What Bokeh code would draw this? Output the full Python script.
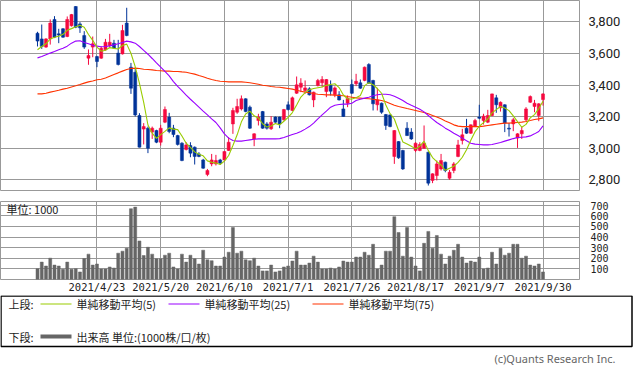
from bokeh.plotting import figure
from bokeh.layouts import column
from bokeh.models import (Range1d, FixedTicker, NumeralTickFormatter, ColumnDataSource,
                          GlobalInlineStyleSheet)
from bokeh.core.properties import value
from bokeh.embed import file_html
from bokeh.resources import INLINE

# ---------------- data ----------------
opens = [3728, 3692, 3640, 3692, 3815, 3724, 3756, 3707, 3775, 3897,
         3787, 3713, 3570, 3640, 3580, 3570, 3623, 3650, 3665, 3602,
         3597, 3792, 3513, 3481, 3207, 3121, 3127, 3102, 3112, 3038,
         3165, 3197, 3127, 3080, 3032, 2992, 3017, 3007, 2964, 2926,
         2834, 2901, 2901, 2926, 2926, 2986, 3154, 3228, 3249, 3313,
         3260, 3059, 3175, 3232, 3154, 3123, 3197, 3197, 3180, 3275,
         3239, 3348, 3386, 3365, 3376, 3306, 3397, 3414, 3359, 3397,
         3338, 3338, 3249, 3285, 3403, 3408, 3414, 3429, 3530, 3429,
         3275, 3285, 3213, 3211, 2948, 3042, 2986, 3127, 3102, 2986,
         2986, 3000, 2975, 2796, 2827, 2869, 2912, 2810, 2859, 2948,
         3049, 3127, 3095, 3137, 3197, 3175, 3165, 3207, 3319, 3256,
         3275, 3127, 3154, 3064, 3091, 3180, 3291, 3264, 3207, 3308]
highs = [3737, 3783, 3697, 3815, 3836, 3756, 3760, 3834, 3850, 3900,
         3798, 3741, 3625, 3707, 3585, 3644, 3692, 3724, 3686, 3686,
         3781, 3889, 3540, 3502, 3222, 3159, 3137, 3137, 3117, 3148,
         3264, 3224, 3148, 3085, 3038, 3038, 3038, 3011, 2975, 2933,
         2869, 2964, 2958, 2933, 2982, 3070, 3256, 3313, 3334, 3316,
         3270, 3095, 3218, 3236, 3165, 3203, 3201, 3200, 3249, 3296,
         3327, 3454, 3443, 3429, 3386, 3358, 3439, 3456, 3438, 3429,
         3391, 3361, 3306, 3334, 3435, 3471, 3435, 3517, 3538, 3433,
         3382, 3289, 3217, 3214, 3115, 3045, 2990, 3165, 3127, 3038,
         3038, 3144, 2979, 2841, 2922, 2964, 2915, 2863, 2912, 3053,
         3123, 3186, 3150, 3186, 3275, 3218, 3243, 3346, 3338, 3296,
         3278, 3159, 3192, 3095, 3137, 3260, 3334, 3306, 3285, 3348]
lows = [3644, 3629, 3635, 3656, 3697, 3665, 3699, 3703, 3770, 3760,
        3730, 3629, 3528, 3576, 3513, 3566, 3618, 3640, 3629, 3524,
        3593, 3709, 3344, 3201, 3005, 3024, 2969, 3059, 3032, 3017,
        3159, 3095, 3070, 3017, 2918, 2986, 2943, 2897, 2943, 2870,
        2823, 2886, 2891, 2895, 2918, 2983, 3091, 3218, 3239, 3228,
        3122, 3013, 3144, 3123, 3118, 3116, 3161, 3127, 3175, 3239,
        3235, 3344, 3355, 3344, 3334, 3260, 3391, 3386, 3323, 3334,
        3323, 3302, 3199, 3260, 3344, 3393, 3376, 3424, 3408, 3239,
        3239, 3218, 3116, 3133, 2901, 2933, 2863, 3078, 3053, 2975,
        2981, 2996, 2764, 2779, 2796, 2859, 2848, 2800, 2842, 2943,
        3024, 3091, 3091, 3135, 3184, 3150, 3159, 3203, 3224, 3232,
        3102, 3074, 3108, 3002, 3059, 3171, 3287, 3228, 3171, 3270]
closes = [3678, 3644, 3692, 3792, 3703, 3716, 3703, 3815, 3846, 3766,
          3762, 3640, 3587, 3661, 3549, 3633, 3671, 3671, 3635, 3530,
          3745, 3713, 3380, 3211, 3007, 3137, 3000, 3127, 3038, 3127,
          3245, 3106, 3087, 3024, 2922, 3021, 2969, 2948, 2948, 2874,
          2859, 2926, 2922, 2905, 2979, 3038, 3239, 3264, 3313, 3232,
          3127, 3091, 3197, 3127, 3127, 3165, 3165, 3154, 3245, 3245,
          3319, 3401, 3412, 3382, 3338, 3355, 3429, 3435, 3435, 3361,
          3382, 3306, 3201, 3317, 3348, 3424, 3380, 3513, 3412, 3281,
          3306, 3228, 3144, 3137, 3112, 2939, 2869, 3080, 3059, 3032,
          3024, 3032, 2779, 2838, 2901, 2922, 2859, 2848, 2901, 3021,
          3085, 3095, 3148, 3175, 3190, 3203, 3207, 3344, 3275, 3291,
          3159, 3121, 3180, 3091, 3112, 3249, 3327, 3285, 3281, 3344]
volumes = [102, 164, 127, 201, 136, 127, 96, 164, 96, 102,
           71, 198, 239, 136, 146, 99, 99, 118, 108, 248,
           267, 295, 667, 682, 363, 226, 304, 239, 195, 195,
           229, 248, 118, 99, 239, 164, 229, 195, 146, 276,
           186, 177, 127, 127, 211, 257, 490, 248, 267, 186,
           177, 201, 127, 81, 81, 136, 71, 81, 118, 127,
           174, 267, 136, 136, 155, 220, 164, 99, 99, 108,
           99, 118, 174, 164, 164, 211, 211, 257, 229, 332,
           99, 136, 267, 267, 592, 443, 220, 490, 211, 127,
           81, 341, 453, 295, 415, 239, 146, 220, 276, 332,
           211, 155, 174, 164, 211, 99, 108, 257, 146, 295,
           229, 248, 332, 332, 201, 220, 136, 127, 146, 71]
ma5 = [3623, 3644, 3661, 3692, 3702, 3709, 3721, 3746, 3757, 3769,
       3778, 3766, 3720, 3683, 3640, 3614, 3620, 3637, 3632, 3628,
       3650, 3659, 3601, 3516, 3411, 3290, 3147, 3096, 3062, 3086,
       3107, 3129, 3121, 3118, 3077, 3032, 3005, 2977, 2962, 2952,
       2920, 2911, 2906, 2897, 2918, 2954, 3017, 3085, 3167, 3217,
       3235, 3205, 3192, 3155, 3134, 3141, 3156, 3148, 3171, 3195,
       3226, 3273, 3324, 3352, 3370, 3378, 3383, 3388, 3398, 3403,
       3408, 3384, 3337, 3313, 3311, 3319, 3334, 3396, 3415, 3402,
       3378, 3348, 3274, 3219, 3185, 3112, 3040, 3027, 3012, 2996,
       3013, 3045, 2985, 2941, 2915, 2894, 2860, 2874, 2886, 2910,
       2943, 2990, 3050, 3105, 3139, 3162, 3185, 3224, 3244, 3264,
       3255, 3238, 3205, 3168, 3133, 3151, 3192, 3213, 3251, 3297]
ma25 = [3572, 3580, 3591, 3602, 3612, 3623, 3633, 3646, 3665, 3678,
        3680, 3669, 3661, 3652, 3646, 3642, 3644, 3648, 3654, 3661,
        3669, 3678, 3673, 3665, 3644, 3619, 3595, 3568, 3540, 3513,
        3486, 3458, 3422, 3391, 3365, 3336, 3310, 3285, 3260, 3235,
        3211, 3186, 3163, 3129, 3091, 3064, 3049, 3045, 3045, 3049,
        3053, 3057, 3059, 3059, 3059, 3059, 3059, 3061, 3068, 3078,
        3087, 3095, 3106, 3121, 3137, 3159, 3186, 3211, 3235, 3260,
        3272, 3277, 3279, 3279, 3285, 3302, 3310, 3317, 3323, 3332,
        3338, 3342, 3342, 3338, 3329, 3317, 3302, 3285, 3272, 3260,
        3247, 3230, 3207, 3184, 3163, 3146, 3127, 3112, 3095, 3080,
        3064, 3047, 3032, 3026, 3024, 3021, 3021, 3024, 3030, 3036,
        3045, 3053, 3061, 3068, 3070, 3072, 3078, 3091, 3106, 3142]
ma75 = [3344, 3344, 3348, 3355, 3361, 3367, 3374, 3380, 3388, 3395,
        3403, 3412, 3420, 3426, 3433, 3437, 3445, 3456, 3467, 3477,
        3488, 3498, 3505, 3507, 3505, 3500, 3498, 3496, 3492, 3490,
        3488, 3488, 3486, 3486, 3483, 3481, 3475, 3469, 3460, 3452,
        3443, 3435, 3429, 3424, 3422, 3420, 3420, 3420, 3420, 3418,
        3414, 3410, 3405, 3399, 3395, 3391, 3388, 3386, 3382, 3378,
        3374, 3367, 3361, 3355, 3351, 3346, 3342, 3340, 3338, 3338,
        3336, 3334, 3332, 3327, 3323, 3319, 3317, 3315, 3313, 3310,
        3306, 3302, 3294, 3283, 3272, 3264, 3258, 3251, 3245, 3239,
        3232, 3226, 3218, 3207, 3197, 3186, 3173, 3161, 3148, 3140,
        3137, 3137, 3137, 3137, 3137, 3140, 3144, 3148, 3152, 3156,
        3159, 3159, 3161, 3163, 3165, 3169, 3175, 3182, 3186, 3192]

tick_idx = [14, 29, 44, 59, 74, 89, 104, 119]
tick_labels = ["2021/4/23", "2021/5/20", "2021/6/10", "2021/7/1",
               "2021/7/26", "2021/8/17", "2021/9/7", "2021/9/30"]
price_ticks = [2800, 3000, 3200, 3400, 3600, 3800]
volume_ticks = [100, 200, 300, 400, 500, 600, 700]
legend_names = ["単純移動平均(5)", "単純移動平均(25)", "単純移動平均(75)"]
volume_name = "出来高 単位:(1000株/口/枚)"
volume_unit = "単位: 1000"
copyright_text = "(c)Quants Research Inc."

# ---------------- styles ----------------
UP, DOWN = "#F5093F", "#003399"
C5, C25, C75 = "#99CC00", "#9900FF", "#FF3300"
GRID = "#999999"
VOLC = "#666666"
CJK = "Noto Sans CJK JP"

X0, X1 = -8.71, 127.59
PX_PER_IDX = 579 / (X1 - X0)

idx = list(range(len(closes)))
src = ColumnDataSource(dict(
    x=idx, o=opens, h=highs, l=lows, c=closes,
    top=[max(a, b) for a, b in zip(opens, closes)],
    bot=[min(a, b) for a, b in zip(opens, closes)],
    color=[UP if c >= o else DOWN for o, c in zip(opens, closes)],
))

# ---------------- price chart ----------------
p = figure(width=633, height=201, x_range=Range1d(X0, X1), y_range=Range1d(2732.5, 3935),
           y_axis_location="right", toolbar_location=None, output_backend="svg",
           min_border_left=0, min_border_right=54, min_border_top=0, min_border_bottom=11)
p.outline_line_color = GRID
p.xaxis.visible = False
p.xgrid.ticker = FixedTicker(ticks=tick_idx)
p.ygrid.ticker = FixedTicker(ticks=price_ticks)
p.grid.grid_line_color = GRID
p.grid.grid_line_alpha = 1.0
ya = p.yaxis[0]
ya.ticker = FixedTicker(ticks=price_ticks)
ya.formatter = NumeralTickFormatter(format="0,0")
ya.axis_line_color = None
ya.major_tick_line_color = None
ya.minor_tick_line_color = None
ya.major_tick_out = 0
ya.major_tick_in = 0
ya.major_label_standoff = 9
ya.major_label_text_font = "Roboto"
ya.major_label_text_font_size = "13px"
ya.major_label_text_color = "#222222"

p.segment(x0="x", y0="l", x1="x", y1="h", source=src, line_color="color", line_width=1)
p.vbar(x="x", width=0.72, top="top", bottom="bot", source=src,
       fill_color="color", line_color="color", line_width=0.5)
p.line(idx, ma75, line_color=C75, line_width=1.1)
p.line(idx, ma25, line_color=C25, line_width=1.1)
p.line(idx, ma5, line_color=C5, line_width=1.1)

# ---------------- volume chart ----------------
VTOP = 735
v = figure(width=633, height=94, x_range=p.x_range, y_range=Range1d(0, VTOP),
           y_axis_location="right", toolbar_location=None, output_backend="svg",
           min_border_left=0, min_border_right=54, min_border_top=0, min_border_bottom=14)
v.outline_line_color = GRID
v.xgrid.ticker = FixedTicker(ticks=tick_idx)
v.ygrid.ticker = FixedTicker(ticks=volume_ticks)
v.grid.grid_line_color = GRID
v.grid.grid_line_alpha = 1.0
xa = v.xaxis[0]
xa.ticker = FixedTicker(ticks=tick_idx)
xa.major_label_overrides = {t: lab for t, lab in zip(tick_idx, tick_labels)}
xa.axis_line_color = None
xa.major_tick_line_color = None
xa.minor_tick_line_color = None
xa.major_tick_out = 0
xa.major_tick_in = 0
xa.major_label_standoff = 1
xa.major_label_text_font = "DejaVu Sans Mono"
xa.major_label_text_font_size = "10.5px"
xa.major_label_text_color = "#222222"
va = v.yaxis[0]
va.ticker = FixedTicker(ticks=volume_ticks)
va.axis_line_color = None
va.major_tick_line_color = None
va.minor_tick_line_color = None
va.major_tick_out = 0
va.major_tick_in = 0
va.major_label_standoff = 11
va.major_label_text_font = "DejaVu Sans Mono"
va.major_label_text_font_size = "10px"
va.major_label_text_color = "#222222"

v.vbar(x=idx, top=volumes, width=0.7, fill_color=VOLC, line_color=VOLC, line_width=0.5)
v.text(x=[X0 + 6 / PX_PER_IDX], y=[VTOP - 8 * VTOP / 80], text=[volume_unit],
       text_font=value(CJK), text_font_size="11px", text_baseline="middle",
       text_align="left", text_color="#222222")

# ---------------- legend / footer ----------------
lg = figure(width=633, height=79, x_range=Range1d(0, 633), y_range=Range1d(79, 0),
            x_axis_location=None, y_axis_location=None,
            toolbar_location=None, output_backend="svg", min_border=0,
            min_border_left=0, min_border_right=0, min_border_top=0, min_border_bottom=0)
if "frame_align" in lg.properties():
    lg.frame_align = False
lg.outline_line_color = None
lg.grid.visible = False
lg.quad(left=0.5, right=631.5, top=0.5, bottom=51, fill_color=None,
        line_color="black", line_width=1.5)
ROW1, ROW2 = 8.5, 41
lg.text(x=[8, 8], y=[ROW1, ROW2], text=["上段:", "下段:"], text_font=value(CJK),
        text_font_size="11px", text_baseline="middle", text_color="#222222")
line_x = [40, 168, 312]
lg.segment(x0=line_x, y0=[ROW1] * 3, x1=[x + 31 for x in line_x], y1=[ROW1] * 3,
           line_color=[C5, C25, C75], line_width=1.2)
lg.text(x=[x + 36 for x in line_x], y=[ROW1] * 3, text=legend_names, text_font=value(CJK),
        text_font_size="11px", text_baseline="middle", text_color="#222222")
lg.segment(x0=[40], y0=[ROW2], x1=[71], y1=[ROW2], line_color=VOLC, line_width=4)
lg.text(x=[76], y=[ROW2], text=[volume_name], text_font=value(CJK),
        text_font_size="11px", text_baseline="middle", text_color="#222222")
lg.text(x=[615], y=[63], text=[copyright_text], text_font=value("Noto Sans"),
        text_font_size="11px", text_baseline="middle", text_align="right",
        text_color="#666666")

layout = column(p, v, lg, spacing=0)
layout.stylesheets = [GlobalInlineStyleSheet(css="html, body { margin: 0 !important; padding: 0 !important; overflow: hidden; }")]
open("out.html", "w").write(file_html(layout, INLINE))
